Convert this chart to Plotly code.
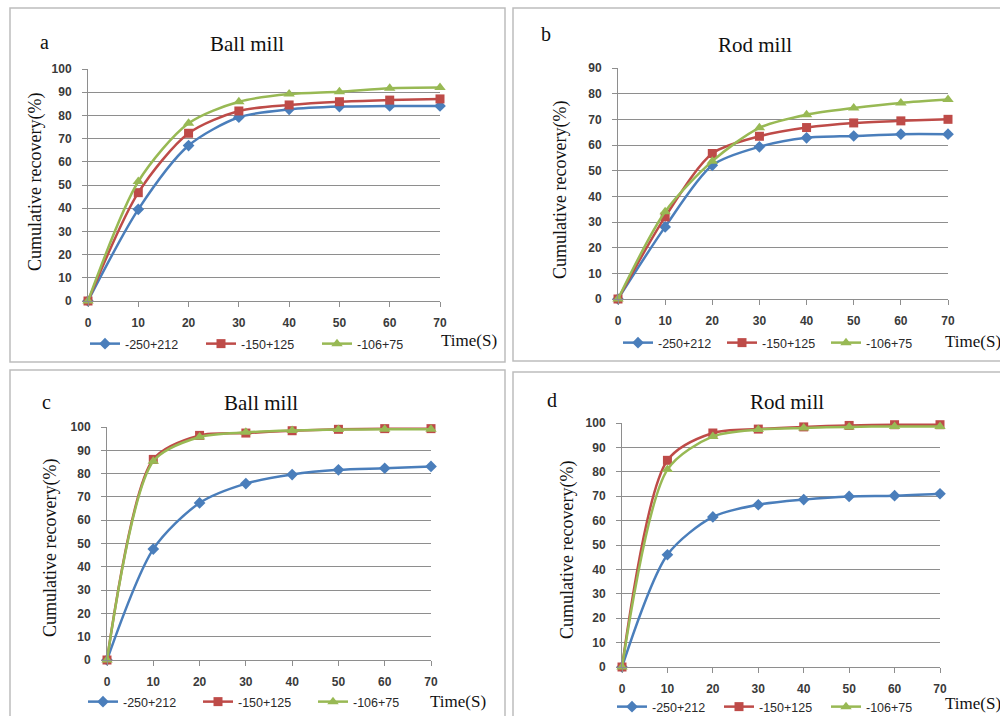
import plotly.graph_objects as go

W, H = 1000, 716

time_s = [0, 10, 20, 30, 40, 50, 60, 70]
series_names = ["-250+212", "-150+125", "-106+75"]

# Panel a: Ball mill
a_250 = [0, 39.5, 67.0, 79.2, 82.6, 83.8, 84.1, 84.1]
a_150 = [0, 46.7, 72.3, 81.9, 84.5, 85.9, 86.6, 87.1]
a_106 = [0, 51.5, 76.6, 85.9, 89.2, 90.2, 91.7, 92.0]
# Panel b: Rod mill
b_250 = [0, 28.1, 52.1, 59.3, 62.8, 63.5, 64.2, 64.2]
b_150 = [0, 32.0, 56.7, 63.4, 66.8, 68.6, 69.4, 70.0]
b_106 = [0, 34.0, 53.7, 66.7, 71.8, 74.4, 76.4, 77.7]
# Panel c: Ball mill
c_250 = [0, 47.6, 67.4, 75.7, 79.6, 81.6, 82.3, 83.1]
c_150 = [0, 86.1, 96.4, 97.4, 98.4, 99.0, 99.3, 99.3]
c_106 = [0, 85.3, 95.7, 97.7, 98.5, 98.9, 99.0, 99.0]
# Panel d: Rod mill
d_250 = [0, 46.0, 61.5, 66.5, 68.6, 69.9, 70.2, 71.0]
d_150 = [0, 84.7, 95.9, 97.5, 98.4, 99.0, 99.3, 99.3]
d_106 = [0, 80.9, 94.5, 97.3, 98.0, 98.4, 98.6, 98.6]

panel_letters = ["a", "b", "c", "d"]
panel_titles = ["Ball mill", "Rod mill", "Ball mill", "Rod mill"]
y_max = [100, 90, 100, 100]
y_title = "Cumulative recovery(%)"
x_title = "Time(S)"

colors = ["#4A7EBB", "#BE4B48", "#98B954"]
symbols = ["diamond", "square", "triangle-up"]
msizes = [9, 9, 10]

panel_data = [
    [a_250, a_150, a_106],
    [b_250, b_150, b_106],
    [c_250, c_150, c_106],
    [d_250, d_150, d_106],
]

# layout (pixels)
plot_px = [  # x0, x1, ytop, ybottom
    (88, 440, 69, 301),
    (618, 948, 68, 299),
    (107, 431, 427, 660),
    (622, 940, 423, 667),
]
box_px = [(10, 505, 8, 362), (513, 1010, 8, 361), (10, 505, 370, 730), (513, 1010, 372, 730)]
title_px = [(247, 44), (755, 45), (261, 403), (787, 402)]
letter_px = [(44, 42), (546, 34), (46, 402), (552, 400)]
ylab_px = [(35, 182), (560, 190), (50, 548), (567, 550)]
time_px = [(439, 340), (943, 341), (428, 701), (943, 703)]
legend_px = [(85, 344), (618, 343), (83, 702), (612, 707)]
legend_entry = [71, 59, 70, 62]

tick_font = dict(family="Liberation Sans, Arial", size=12, color="#3a3a3a", weight="bold")
legend_font = dict(family="Liberation Sans, Arial", size=12.5, color="#2a2a2a")
serif = "Liberation Serif, Times New Roman"


def px(x):
    return x / W


def py(y):
    return 1 - y / H


fig = go.Figure()

for i in range(4):
    ax = "" if i == 0 else str(i + 1)
    leg = "legend" if i == 0 else "legend" + str(i + 1)
    for s in range(3):
        fig.add_trace(go.Scatter(
            x=time_s, y=panel_data[i][s], name=series_names[s],
            mode="lines+markers", line=dict(color=colors[s], width=2.5, shape="spline", smoothing=0.8),
            marker=dict(symbol=symbols[s], size=msizes[s], color=colors[s]),
            xaxis="x" + ax, yaxis="y" + ax, legend=leg, cliponaxis=False,
        ))
    x0, x1, yt, yb = plot_px[i]
    fig.layout["xaxis" + ax] = dict(
        domain=[px(x0), px(x1)], range=[0, 70], anchor="y" + ax, tickvals=time_s,
        showgrid=False, zeroline=False, showline=True, linecolor="#8e8e8e", linewidth=1,
        ticks="outside", ticklen=5, tickcolor="#8e8e8e", ticklabelstandoff=6,
        tickfont=tick_font, fixedrange=True, automargin=False,
    )
    fig.layout["yaxis" + ax] = dict(
        domain=[py(yb), py(yt)], range=[0, y_max[i]], anchor="x" + ax, dtick=10,
        showgrid=True, gridcolor="#8e8e8e", gridwidth=1, zeroline=False,
        showline=True, linecolor="#8e8e8e", linewidth=1,
        ticks="outside", ticklen=5, tickcolor="#8e8e8e", ticklabelstandoff=8,
        tickfont=tick_font, fixedrange=True, automargin=False,
    )
    lx, ly = legend_px[i]
    fig.layout[leg] = dict(
        orientation="h", x=px(lx), y=py(ly), xanchor="left", yanchor="middle",
        entrywidth=legend_entry[i], entrywidthmode="pixels", bgcolor="rgba(0,0,0,0)",
        font=legend_font, itemclick=False, tracegroupgap=0,
    )
    bx0, bx1, by0, by1 = box_px[i]
    fig.add_shape(type="rect", xref="paper", yref="paper",
                  x0=px(bx0), x1=px(bx1), y0=py(by1), y1=py(by0),
                  line=dict(color="#bdbdbd", width=1.5), fillcolor="rgba(0,0,0,0)", layer="below")
    tx, ty = title_px[i]
    fig.add_annotation(text=panel_titles[i], x=px(tx), y=py(ty), xref="paper", yref="paper",
                       showarrow=False, xanchor="center", yanchor="middle",
                       font=dict(family=serif, size=21, color="#111111"))
    lx2, ly2 = letter_px[i]
    fig.add_annotation(text=panel_letters[i], x=px(lx2), y=py(ly2), xref="paper", yref="paper",
                       showarrow=False, xanchor="center", yanchor="middle",
                       font=dict(family=serif, size=20, color="#111111"))
    yx, yy = ylab_px[i]
    fig.add_annotation(text=y_title, x=px(yx), y=py(yy), xref="paper", yref="paper",
                       showarrow=False, xanchor="center", yanchor="middle", textangle=-90,
                       font=dict(family=serif, size=18, color="#111111"))
    tmx, tmy = time_px[i]
    fig.add_annotation(text=x_title, x=px(tmx), y=py(tmy), xref="paper", yref="paper",
                       showarrow=False, xanchor="left", yanchor="middle",
                       font=dict(family=serif, size=17, color="#111111"))

fig.update_layout(
    width=W, height=H, margin=dict(l=0, r=0, t=0, b=0, autoexpand=False),
    paper_bgcolor="white", plot_bgcolor="white", showlegend=True,
)

fig.write_html(
    "out.html", config={"displayModeBar": False},
    post_script="document.body.style.margin='0';document.body.style.overflow='hidden';",
)
